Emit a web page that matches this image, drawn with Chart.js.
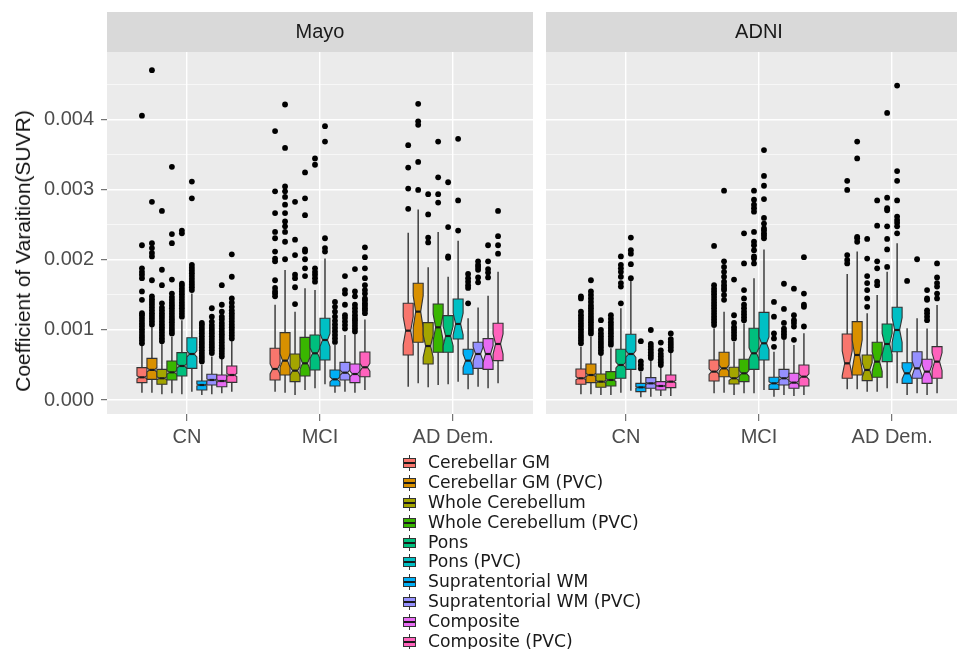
<!DOCTYPE html>
<html>
<head>
<meta charset="utf-8">
<script src="https://cdn.jsdelivr.net/npm/chart.js@4.4.1/dist/chart.umd.min.js"></script>
<style>
  html, body { margin: 0; padding: 0; background: #fff; }
  body { width: 957px; height: 649px; overflow: hidden; position: relative; font-family: 'Liberation Sans', Arial, sans-serif; }
  #left { position: absolute; left: 0; top: 0; }
  #right { position: absolute; left: 546px; top: 0; }
  #ytitle { position: absolute; left: 23px; top: 251px; transform: translate(-50%, -50%) rotate(-90deg);
            white-space: nowrap; font-size: 21px; color: #111; }
  #legend { position: absolute; left: 403px; top: 453px; font-family: 'DejaVu Sans', sans-serif;
            font-size: 17.2px; color: #1a1a1a; }
  .row { position: relative; height: 19.9px; line-height: 19.9px; padding-left: 25px; white-space: nowrap; }
  .wh { position: absolute; left: 6px; top: 2px; width: 1px; height: 16px; background: #333; }
  .key { position: absolute; left: 0; top: 5px; width: 13px; height: 10px; box-sizing: border-box; border: 1px solid #333; }
  .key::after { content: ''; position: absolute; left: 0; right: 0; top: 3px; height: 2px; background: #1a1a1a; }
</style>
</head>
<body>
<canvas id="left" width="533" height="460"></canvas>
<canvas id="right" width="426" height="460"></canvas>
<div id="ytitle">Coefficient of Varaition(SUVR)</div>
<div id="legend"></div>

<script>
// all stats below are read in thousandths of the CV
const UNIT = 0.001;

const cohorts = ['Mayo', 'ADNI'];
const diagnoses = ['CN', 'MCI', 'AD Dem.'];
const regions = ['Cerebellar GM', 'Cerebellar GM (PVC)', 'Whole Cerebellum', 'Whole Cerebellum (PVC)',
  'Pons', 'Pons (PVC)', 'Supratentorial WM', 'Supratentorial WM (PVC)', 'Composite', 'Composite (PVC)'];
const colors = ['#F8766D', '#D89000', '#A3A500', '#39B600', '#00BF7D',
  '#00BFC4', '#00B0F6', '#9590FF', '#E76BF3', '#FF62BC'];
const yTicks = [0, 0.0005, 0.001, 0.0015, 0.002, 0.0025, 0.003, 0.0035, 0.004, 0.0045];

// group sizes (used for the notches)
const mayoN = [250, 100, 34];
const adniN = [250, 140, 32];

// [lower whisker, q1, median, q3, upper whisker] per region
const mayoCN = [
  [0.105, 0.248, 0.324, 0.462, 0.786],
  [0.105, 0.295, 0.430, 0.595, 1.05],
  [0.081, 0.224, 0.310, 0.438, 0.81],
  [0.095, 0.286, 0.395, 0.557, 0.90],
  [0.081, 0.343, 0.486, 0.676, 1.14],
  [0.119, 0.452, 0.657, 0.890, 1.52],
  [0.071, 0.143, 0.214, 0.271, 0.50],
  [0.081, 0.214, 0.286, 0.367, 0.62],
  [0.095, 0.190, 0.271, 0.357, 0.595],
  [0.119, 0.252, 0.357, 0.486, 0.857]
];
const mayoMCI = [
  [0.119, 0.286, 0.443, 0.738, 1.36],
  [0.105, 0.357, 0.562, 0.962, 1.857],
  [0.071, 0.262, 0.419, 0.657, 1.26],
  [0.143, 0.343, 0.524, 0.895, 1.595],
  [0.167, 0.429, 0.667, 0.929, 1.57],
  [0.224, 0.571, 0.857, 1.167, 2.02],
  [0.105, 0.200, 0.295, 0.429, 0.786],
  [0.119, 0.286, 0.390, 0.538, 0.93],
  [0.105, 0.248, 0.371, 0.514, 0.952],
  [0.143, 0.333, 0.467, 0.686, 1.15]
];
const mayoAD = [
  [0.190, 0.643, 0.990, 1.381, 2.39],
  [0.238, 0.824, 1.262, 1.667, 2.72],
  [0.181, 0.514, 0.771, 1.105, 1.895],
  [0.214, 0.681, 1.038, 1.371, 2.40],
  [0.224, 0.681, 0.914, 1.205, 1.76],
  [0.262, 0.871, 1.086, 1.443, 2.276],
  [0.152, 0.367, 0.562, 0.724, 1.167],
  [0.190, 0.452, 0.657, 0.824, 1.32],
  [0.167, 0.438, 0.657, 0.876, 1.49],
  [0.238, 0.562, 0.800, 1.095, 1.83]
];
const adniCN = [
  [0.081, 0.224, 0.310, 0.443, 0.762],
  [0.081, 0.248, 0.357, 0.514, 0.905],
  [0.071, 0.181, 0.262, 0.371, 0.643],
  [0.071, 0.200, 0.286, 0.405, 0.738],
  [0.105, 0.310, 0.500, 0.724, 1.31],
  [0.133, 0.438, 0.657, 0.938, 1.71],
  [0.038, 0.119, 0.181, 0.238, 0.405],
  [0.048, 0.167, 0.238, 0.319, 0.571],
  [0.057, 0.143, 0.200, 0.262, 0.476],
  [0.057, 0.176, 0.262, 0.357, 0.69]
];
const adniMCI = [
  [0.095, 0.271, 0.405, 0.571, 1.024],
  [0.105, 0.333, 0.452, 0.681, 1.26],
  [0.071, 0.229, 0.310, 0.467, 0.833],
  [0.095, 0.262, 0.381, 0.581, 1.095],
  [0.095, 0.438, 0.667, 1.024, 1.74],
  [0.143, 0.571, 0.810, 1.252, 2.15],
  [0.048, 0.152, 0.238, 0.324, 0.69],
  [0.071, 0.214, 0.310, 0.438, 0.857],
  [0.057, 0.167, 0.248, 0.381, 0.786],
  [0.071, 0.200, 0.333, 0.500, 0.952]
];
const adniAD = [
  [0.152, 0.310, 0.524, 0.943, 1.80],
  [0.152, 0.357, 0.643, 1.119, 2.12],
  [0.119, 0.276, 0.429, 0.643, 1.238],
  [0.119, 0.324, 0.548, 0.824, 1.50],
  [0.167, 0.548, 0.800, 1.086, 1.83],
  [0.238, 0.690, 1.000, 1.324, 2.24],
  [0.071, 0.238, 0.381, 0.533, 1.024],
  [0.095, 0.310, 0.452, 0.690, 1.167],
  [0.071, 0.238, 0.405, 0.581, 1.02],
  [0.095, 0.310, 0.548, 0.762, 1.357]
];

// outliers per region
const mayoCNOut = [
  [0.81, 0.85, 0.89, 0.93, 0.97, 1.01, 1.05, 1.09, 1.13, 1.17, 1.21, 1.24, 1.43, 1.55, 1.74, 1.79, 1.83, 1.88, 2.21, 4.06],
  [1.08, 1.12, 1.16, 1.20, 1.24, 1.28, 1.32, 1.36, 1.40, 1.44, 1.48, 1.71, 2.05, 2.10, 2.17, 2.24, 2.83, 4.71],
  [0.84, 0.88, 0.92, 0.96, 1.00, 1.04, 1.08, 1.12, 1.16, 1.20, 1.24, 1.28, 1.32, 1.38, 1.64, 1.86, 2.70],
  [0.95, 0.99, 1.03, 1.07, 1.11, 1.15, 1.19, 1.23, 1.27, 1.31, 1.35, 1.39, 1.43, 1.47, 1.52, 1.72, 2.24, 2.37, 3.33],
  [1.19, 1.23, 1.27, 1.31, 1.35, 1.39, 1.43, 1.47, 1.51, 1.55, 1.59, 1.63, 1.66, 2.38, 2.42],
  [1.57, 1.61, 1.65, 1.69, 1.73, 1.77, 1.81, 1.85, 1.89, 1.93, 2.88, 3.12],
  [0.55, 0.59, 0.63, 0.67, 0.71, 0.75, 0.79, 0.83, 0.87, 0.91, 0.95, 0.99, 1.03, 1.07, 1.10],
  [0.67, 0.71, 0.75, 0.79, 0.83, 0.87, 0.91, 0.95, 0.99, 1.03, 1.07, 1.12, 1.19, 1.31],
  [0.62, 0.66, 0.70, 0.74, 0.78, 0.82, 0.86, 0.90, 0.94, 0.98, 1.02, 1.06, 1.10, 1.15, 1.19, 1.26, 1.36, 1.64],
  [0.88, 0.92, 0.96, 1.00, 1.04, 1.08, 1.12, 1.16, 1.20, 1.24, 1.28, 1.33, 1.39, 1.45, 1.76, 2.08]
];
const mayoMCIOut = [
  [1.48, 1.52, 1.55, 1.60, 1.71, 1.98, 2.02, 2.12, 2.31, 2.40, 2.67, 2.98, 3.84],
  [2.01, 2.26, 2.40, 2.48, 2.55, 2.67, 2.79, 2.90, 2.98, 3.05, 3.60, 4.22],
  [1.37, 1.61, 1.74, 1.79, 2.07, 2.29, 2.83],
  [1.77, 1.88, 2.01, 2.12, 2.15, 2.64, 2.88, 3.25],
  [1.69, 1.74, 1.79, 1.83, 1.88, 3.36, 3.45],
  [2.12, 2.17, 2.31, 3.69, 3.91],
  [0.83, 0.88, 0.93, 0.98, 1.03, 1.08, 1.13, 1.19, 1.26, 1.33, 1.40],
  [1.02, 1.07, 1.12, 1.17, 1.21, 1.36, 1.52, 1.57, 1.77],
  [0.98, 1.02, 1.06, 1.10, 1.14, 1.17, 1.21, 1.26, 1.31, 1.36, 1.48, 1.55, 1.87],
  [1.24, 1.28, 1.31, 1.35, 1.38, 1.42, 1.45, 1.52, 1.57, 1.64, 1.74, 1.88, 2.04, 2.18]
];
const mayoADOut = [
  [2.73, 3.02, 3.32, 3.64],
  [3.00, 3.40, 3.93, 3.98, 4.23],
  [2.25, 2.32, 2.65, 2.94],
  [2.82, 2.94, 3.18, 3.69],
  [2.03, 2.05, 2.47, 3.11],
  [2.42, 2.85, 3.73],
  [1.38, 1.60, 1.64, 1.69, 1.74, 1.80],
  [1.68, 1.75, 1.86, 1.90, 1.93, 1.98],
  [1.75, 1.82, 1.87, 1.98, 2.21],
  [2.09, 2.21, 2.34, 2.70]
];
const adniCNOut = [
  [0.81, 0.85, 0.89, 0.93, 0.97, 1.01, 1.05, 1.09, 1.13, 1.17, 1.21, 1.26, 1.45, 1.48],
  [0.95, 0.99, 1.03, 1.07, 1.11, 1.15, 1.19, 1.23, 1.27, 1.31, 1.35, 1.40, 1.45, 1.50, 1.55, 1.71],
  [0.67, 0.71, 0.75, 0.79, 0.83, 0.87, 0.91, 0.95, 1.00, 1.14],
  [0.79, 0.83, 0.87, 0.91, 0.95, 0.99, 1.03, 1.07, 1.11, 1.16, 1.21],
  [1.38, 1.62, 1.67, 1.76, 1.83, 1.88, 1.93, 2.05],
  [1.74, 1.94, 2.09, 2.14, 2.32],
  [0.45, 0.50, 0.55, 0.84],
  [0.60, 0.64, 0.68, 0.72, 0.76, 0.80, 1.00],
  [0.50, 0.54, 0.58, 0.62, 0.66, 0.71, 0.82],
  [0.71, 0.75, 0.79, 0.83, 0.87, 0.95]
];
const adniMCIOut = [
  [1.07, 1.11, 1.15, 1.19, 1.23, 1.27, 1.31, 1.35, 1.39, 1.43, 1.47, 1.51, 1.55, 1.59, 1.64, 2.20],
  [1.43, 1.50, 1.57, 1.60, 1.64, 1.69, 1.76, 1.83, 1.90, 1.98, 2.99],
  [0.88, 0.92, 0.96, 1.00, 1.04, 1.10, 1.21, 1.72],
  [1.14, 1.18, 1.22, 1.26, 1.31, 1.36, 1.45, 1.57, 1.95, 2.38],
  [1.95, 2.02, 2.05, 2.14, 2.21, 2.26, 2.40, 2.69, 2.74, 2.79, 2.86, 2.99],
  [2.31, 2.35, 2.38, 2.42, 2.45, 2.52, 2.60, 2.87, 3.06, 3.20, 3.57],
  [0.76, 0.88, 0.95, 1.19, 1.40],
  [0.90, 0.94, 0.98, 1.02, 1.10, 1.30, 1.66],
  [0.86, 1.05, 1.10, 1.14, 1.21, 1.59],
  [1.05, 1.33, 1.36, 1.52, 2.04]
];
const adniADOut = [
  [1.95, 2.00, 2.07, 3.00, 3.13],
  [2.26, 2.31, 2.33, 3.45, 3.69],
  [1.33, 1.45, 1.57, 1.67, 1.77, 2.02, 2.30],
  [1.64, 1.69, 1.88, 1.98, 2.49, 2.85],
  [1.90, 2.15, 2.30, 2.48, 2.71, 2.74, 2.89, 4.10],
  [2.38, 2.48, 2.53, 2.57, 2.62, 2.85, 3.13, 3.27, 4.49],
  [1.70],
  [2.01],
  [1.14, 1.19, 1.24, 1.28, 1.43, 1.45, 1.57],
  [1.45, 1.52, 1.62, 1.67, 1.75, 1.95]
];

const dodge = 0.075;
const tickFont = { family: 'Liberation Sans', size: 20 };
const isMajor = v => Math.abs(v * 1000 - Math.round(v * 1000)) < 1e-6;

// panel background + facet strip
const panelPlugin = {
  id: 'panel',
  beforeDraw(chart, args, opts) {
    const { ctx, chartArea: a } = chart;
    ctx.save();
    ctx.fillStyle = '#EBEBEB';
    ctx.fillRect(a.left, a.top, a.right - a.left, a.bottom - a.top);
    ctx.fillStyle = '#D9D9D9';
    ctx.fillRect(a.left, 12, a.right - a.left, a.top - 12);
    ctx.fillStyle = '#1a1a1a';
    ctx.font = '20px "Liberation Sans"';
    ctx.textAlign = 'center';
    ctx.textBaseline = 'middle';
    ctx.fillText(opts.label, (a.left + a.right) / 2, (12 + a.top) / 2);
    ctx.restore();
  }
};

// notched boxes and whiskers, placed through the chart scales
const boxPlugin = {
  id: 'boxes',
  beforeDatasetsDraw(chart) {
    const { ctx, scales: { x, y } } = chart;
    ctx.save();
    chart.data.datasets.forEach((ds, r) => {
      ds.boxes.forEach((b, g) => {
        const [lo, q1, med, q3, hi] = b.map(v => v * UNIT);
        const nh = 1.58 * (q3 - q1) / Math.sqrt(ds.sizes[g]);
        const pos = g + 1 + (r - 4.5) * dodge;
        const xl = x.getPixelForValue(pos - dodge / 2);
        const xr = x.getPixelForValue(pos + dodge / 2);
        const xc = x.getPixelForValue(pos);
        const w = xr - xl;

        ctx.strokeStyle = '#333';
        ctx.lineWidth = 1.4;
        ctx.beginPath();
        ctx.moveTo(xc, y.getPixelForValue(hi));
        ctx.lineTo(xc, y.getPixelForValue(q3));
        ctx.moveTo(xc, y.getPixelForValue(q1));
        ctx.lineTo(xc, y.getPixelForValue(lo));
        ctx.stroke();

        ctx.beginPath();
        ctx.moveTo(xl, y.getPixelForValue(q1));
        ctx.lineTo(xl, y.getPixelForValue(med - nh));
        ctx.lineTo(xl + w / 4, y.getPixelForValue(med));
        ctx.lineTo(xl, y.getPixelForValue(med + nh));
        ctx.lineTo(xl, y.getPixelForValue(q3));
        ctx.lineTo(xr, y.getPixelForValue(q3));
        ctx.lineTo(xr, y.getPixelForValue(med + nh));
        ctx.lineTo(xr - w / 4, y.getPixelForValue(med));
        ctx.lineTo(xr, y.getPixelForValue(med - nh));
        ctx.lineTo(xr, y.getPixelForValue(q1));
        ctx.closePath();
        ctx.fillStyle = ds.boxColor;
        ctx.fill();
        ctx.lineWidth = 1.1;
        ctx.stroke();

        ctx.strokeStyle = '#1a1a1a';
        ctx.lineWidth = 2.2;
        ctx.beginPath();
        ctx.moveTo(xl + w / 4, y.getPixelForValue(med));
        ctx.lineTo(xr - w / 4, y.getPixelForValue(med));
        ctx.stroke();
      });
    });
    ctx.restore();
  }
};

function buildDatasets(boxGroups, outGroups, sizes) {
  return regions.map((name, r) => ({
    label: name,
    boxColor: colors[r],
    sizes: sizes,
    boxes: boxGroups.map(gb => gb[r]),
    data: outGroups.flatMap((go, g) => go[r].map(v => ({ x: g + 1 + (r - 4.5) * dodge, y: v * UNIT }))),
    pointRadius: 2.9,
    pointBackgroundColor: '#000',
    pointBorderWidth: 0
  }));
}

function makeChart(id, label, datasets, showY) {
  return new Chart(document.getElementById(id), {
    type: 'scatter',
    data: { datasets },
    plugins: [panelPlugin, boxPlugin],
    options: {
      responsive: false,
      animation: false,
      devicePixelRatio: 1,
      layout: { autoPadding: false, padding: { top: 52, left: 0, right: 0, bottom: 0 } },
      plugins: {
        legend: { display: false },
        tooltip: { enabled: false },
        panel: { label }
      },
      scales: {
        x: {
          type: 'linear',
          min: 0.4,
          max: 3.6,
          afterBuildTicks: s => { s.ticks = diagnoses.map((d, i) => ({ value: i + 1 })); },
          afterFit: s => { s.height = 46; },
          ticks: { callback: v => diagnoses[Math.round(v) - 1], font: tickFont, color: '#4D4D4D', padding: 4, maxRotation: 0 },
          grid: { color: '#FFFFFF', lineWidth: 1.4, tickColor: '#555', tickWidth: 1, tickLength: 7 },
          border: { display: false }
        },
        y: {
          type: 'linear',
          min: -0.0002,
          max: 0.00497,
          afterBuildTicks: s => { s.ticks = yTicks.map(v => ({ value: v })); },
          afterFit: s => { s.width = showY ? 107 : 0; },
          ticks: {
            display: showY,
            callback: v => isMajor(v) ? v.toFixed(3) : '',
            font: tickFont, color: '#4D4D4D', padding: 7
          },
          grid: {
            color: '#FFFFFF',
            lineWidth: c => (c.tick && isMajor(c.tick.value)) ? 1.4 : 0.6,
            tickColor: c => (c.tick && isMajor(c.tick.value)) ? '#555' : 'rgba(0,0,0,0)',
            tickWidth: 1,
            drawTicks: showY,
            tickLength: showY ? 6 : 0
          },
          border: { display: false }
        }
      }
    }
  });
}

makeChart('left', cohorts[0],
  buildDatasets([mayoCN, mayoMCI, mayoAD], [mayoCNOut, mayoMCIOut, mayoADOut], mayoN), true);
makeChart('right', cohorts[1],
  buildDatasets([adniCN, adniMCI, adniAD], [adniCNOut, adniMCIOut, adniADOut], adniN), false);

// legend
const legend = document.getElementById('legend');
regions.forEach((name, i) => {
  const row = document.createElement('div');
  row.className = 'row';
  row.innerHTML = '<span class="wh"></span><span class="key" style="background:' + colors[i] + '"></span>' + name;
  legend.appendChild(row);
});
</script>
</body>
</html>
